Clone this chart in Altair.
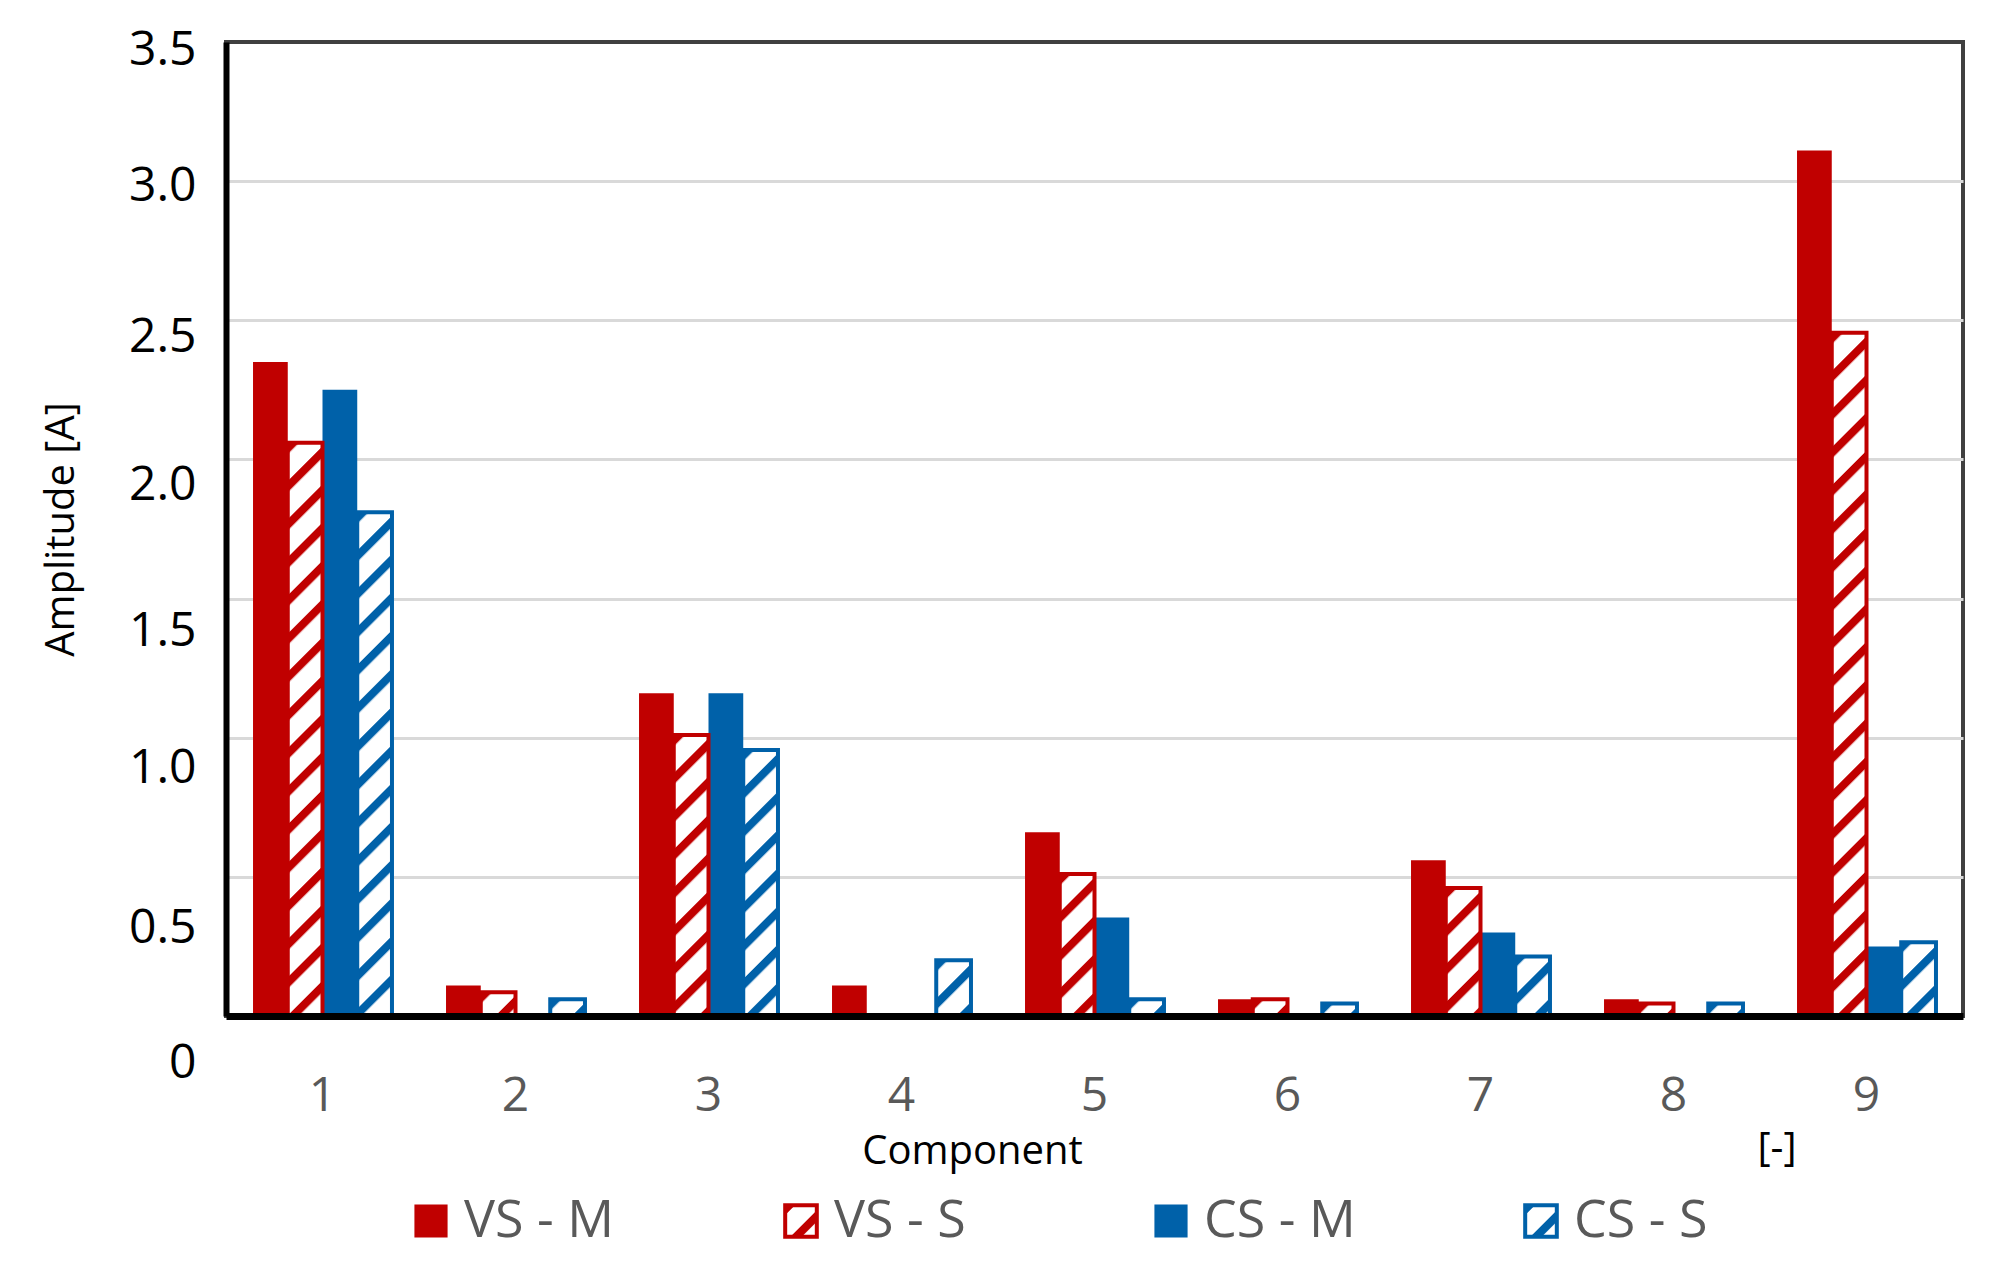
import altair as alt
import pandas as pd
from urllib.parse import quote

# ---------------- data ----------------
components = ["1", "2", "3", "4", "5", "6", "7", "8", "9"]
series = ["VS - M", "VS - S", "CS - M", "CS - S"]
vs_m = [2.35, 0.11, 1.16, 0.11, 0.66, 0.06, 0.56, 0.06, 3.11]
vs_s = [2.06, 0.085, 1.01, 0.0, 0.51, 0.06, 0.46, 0.045, 2.455]
cs_m = [2.25, 0.0, 1.16, 0.0, 0.354, 0.0, 0.30, 0.0, 0.25]
cs_s = [1.81, 0.06, 0.956, 0.20, 0.06, 0.045, 0.214, 0.045, 0.265]
y_ticks = [0, 0.5, 1.0, 1.5, 2.0, 2.5, 3.0, 3.5]
y_label_shift = [47, 52, 31, 33, 26, 17.5, 5, 8]

RED = "#C00000"
BLUE = "#0061A9"
FONT = "Open Sans"

df = pd.DataFrame({
    "component": components * 4,
    "series": [s for s in series for _ in components],
    "value": vs_m + vs_s + cs_m + cs_s,
})
legend_df = pd.DataFrame({"series": series})


def hatch_url(color):
    svg = (
        '<svg xmlns="http://www.w3.org/2000/svg" width="100%" height="100%">'
        '<defs><pattern id="h" patternUnits="userSpaceOnUse" width="27" height="27" '
        'patternTransform="rotate(45)">'
        f'<rect x="0" y="0" width="8" height="27" fill="{color}"/></pattern></defs>'
        '<rect x="0" y="0" width="100%" height="100%" fill="white"/>'
        '<rect x="0" y="0" width="100%" height="100%" fill="url(#h)"/></svg>'
    )
    return "data:image/svg+xml;charset=utf-8," + quote(svg)


shift_js = "[" + ",".join(str(v) for v in y_label_shift) + "]"

x_enc = alt.X(
    "component:N",
    sort=components,
    scale=alt.Scale(domain=components, paddingInner=0.28, paddingOuter=0.14),
    axis=alt.Axis(
        title="Component", labelAngle=0, labelFont=FONT, labelFontSize=48,
        labelColor="#595959", labelPadding=56, ticks=False, tickSize=0,
        domainColor="black", domainWidth=7, grid=False, zindex=1,
        titleFont=FONT, titleFontSize=40, titleFontWeight="normal",
        titleColor="black", titleX=746, titleY=135, titleBaseline="middle",
    ),
)
xo_enc = alt.XOffset(
    "series:N", sort=series,
    scale=alt.Scale(domain=series, paddingInner=0, paddingOuter=0),
)
y_enc = alt.Y(
    "value:Q",
    stack=None,
    scale=alt.Scale(domain=[0, 3.5], nice=False),
    axis=alt.Axis(
        values=y_ticks,
        labelExpr="datum.value == 0 ? '0' : format(datum.value, '.1f')",
        labelFont=FONT, labelFontSize=48, labelColor="black", labelPadding=30,
        labelOffset={"expr": f"{shift_js}[round(datum.value*2)]"},
        ticks=False, tickSize=0, domainColor="black", domainWidth=6,
        gridColor="#d9d9d9", gridWidth=3,
        gridOpacity={"condition": {"test": "datum.value <= 0 || datum.value >= 3.5", "value": 0}, "value": 1},
        title="Amplitude [A]", titleFont=FONT, titleFontSize=40,
        titleFontWeight="normal", titleColor="black", titleX=-165,
        titleBaseline="middle",
    ),
)

color_scale = alt.Scale(domain=series, range=[RED, RED, BLUE, BLUE])
base = alt.Chart(df).encode(x=x_enc, xOffset=xo_enc, y=y_enc).transform_filter(
    alt.datum.value > 0
)

solid = base.transform_filter(
    alt.FieldOneOfPredicate(field="series", oneOf=["VS - M", "CS - M"])
).mark_bar().encode(color=alt.Color("series:N", scale=color_scale, legend=None))

hatch_vs = base.transform_filter(alt.datum.series == "VS - S").mark_image(aspect=False).encode(
    y2=alt.datum(0), url=alt.value(hatch_url(RED))
)
hatch_cs = base.transform_filter(alt.datum.series == "CS - S").mark_image(aspect=False).encode(
    y2=alt.datum(0), url=alt.value(hatch_url(BLUE))
)

outline = base.transform_filter(
    alt.FieldOneOfPredicate(field="series", oneOf=["VS - S", "CS - S"])
).mark_bar(filled=False, strokeWidth=4).encode(
    color=alt.Color("series:N", scale=color_scale, legend=None)
)

bars = alt.layer(solid, hatch_vs, hatch_cs, outline)

# ---------------- legend drawn from the series list ----------------
LEG_Y = 1179  # pixel row of the legend, below the plot
leg_x = alt.X("series:N", sort=series, axis=None,
              scale=alt.Scale(type="point", domain=series, range=[205, 1315], padding=0))
leg_base = alt.Chart(legend_df).encode(x=leg_x, y=alt.value(LEG_Y))

leg_solid = leg_base.transform_filter(
    alt.FieldOneOfPredicate(field="series", oneOf=["VS - M", "CS - M"])
).mark_square(size=1100, opacity=1, filled=True).encode(
    color=alt.Color("series:N", scale=color_scale, legend=None)
)
leg_hatch_vs = leg_base.transform_filter(alt.datum.series == "VS - S").mark_image(
    width=32, height=34, aspect=False, align="center", baseline="middle"
).encode(url=alt.value(hatch_url(RED)))
leg_hatch_cs = leg_base.transform_filter(alt.datum.series == "CS - S").mark_image(
    width=32, height=34, aspect=False, align="center", baseline="middle"
).encode(url=alt.value(hatch_url(BLUE)))
leg_outline = leg_base.transform_filter(
    alt.FieldOneOfPredicate(field="series", oneOf=["VS - S", "CS - S"])
).mark_square(size=1000, filled=False, strokeWidth=4, opacity=1).encode(
    color=alt.Color("series:N", scale=color_scale, legend=None)
)
leg_text = leg_base.mark_text(
    align="left", baseline="middle", dx=33, font=FONT, fontSize=52, color="#595959"
).encode(text="series:N")

legend = alt.layer(leg_solid, leg_hatch_vs, leg_hatch_cs, leg_outline, leg_text)

chart = alt.layer(bars, legend).resolve_scale(x="independent").properties(
    width=1737,
    height=974,
    autosize=alt.AutoSizeParams(type="none"),
    padding={"left": 218, "top": 34, "right": 30, "bottom": 238},
    background="white",
    title=alt.TitleParams(
        "[-]", orient="bottom", anchor="start", frame="group", align="center",
        dx=1551, dy=-122, fontSize=40, font=FONT, fontWeight="normal", color="black",
    ),
).configure_view(stroke="#404040", strokeWidth=4)

chart.save("out.html", embed_options={"renderer": "svg", "actions": False})
